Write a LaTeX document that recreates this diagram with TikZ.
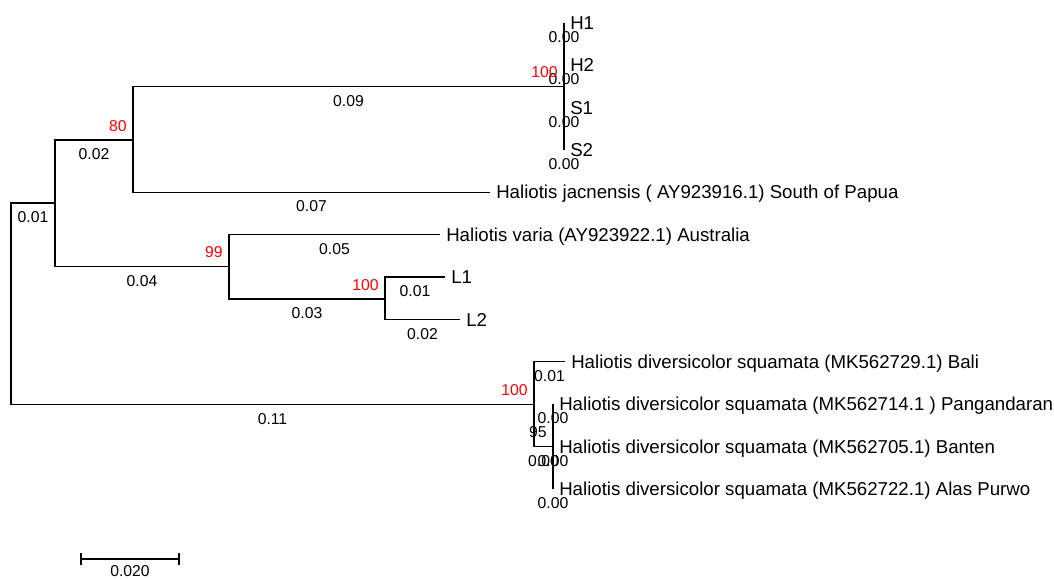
\documentclass[tikz,border=0pt]{standalone}
\usepackage{fontspec}
\usetikzlibrary{calc}
\setmainfont{Liberation Sans}
\newcommand{\taxafont}{\fontsize{14pt}{16pt}\selectfont}
\newcommand{\numfont}{\fontsize{11.8pt}{14pt}\selectfont}
\tikzset{
  branch/.style={line width=0.8pt, black},
  taxon/.style={anchor=base west, inner sep=0pt, xshift=4.5pt, yshift=-5pt, font=\taxafont},
  blen/.style={anchor=north, inner sep=0pt, yshift=-6.2pt, font=\numfont},
  boot/.style={anchor=south east, inner sep=0pt, xshift=-4.5pt, yshift=6.4pt, font=\numfont, text=red},
  bootblack/.style={boot, text=black},
}
\begin{document}
\begin{tikzpicture}[x=0.75pt, y=-0.75pt]
\useasboundingbox (0,0) rectangle (1054,579);

% internal nodes
\coordinate (root) at (11,304);
\coordinate (A) at (55,203);
\coordinate (B) at (133,140);
\coordinate (Hn) at (564,86.5);
\coordinate (C) at (229,266.5);
\coordinate (D) at (385,299);
\coordinate (E) at (534,404.5);
\coordinate (F) at (553,446.5);

% leaves
\coordinate (h1) at (564,22.6);
\coordinate (h2) at (564,65);
\coordinate (s1) at (564,107.4);
\coordinate (s2) at (564,149.8);
\coordinate (jac) at (490,192.2);
\coordinate (var) at (440,234.6);
\coordinate (l1) at (445,277);
\coordinate (l2) at (460,319.4);
\coordinate (bali) at (565,361.8);
\coordinate (pang) at (553,404.2);
\coordinate (ban) at (553,446.6);
\coordinate (alas) at (553,489);

% branches with their lengths
\draw[branch] (root) |- (A) node[blen, pos=0.75] {0.01};
\draw[branch] (root) |- (E) node[blen, pos=0.75] {0.11};
\draw[branch] (A) |- (B) node[blen, pos=0.75] {0.02};
\draw[branch] (A) |- (C) node[blen, pos=0.75] {0.04};
\draw[branch] (B) |- (Hn) node[blen, pos=0.75] {0.09};
\draw[branch] (B) |- (jac) node[blen, pos=0.75] {0.07};
\draw[branch] (Hn) |- (h1) node[blen, pos=0.75] {0.00};
\draw[branch] (Hn) |- (h2) node[blen, pos=0.75] {0.00};
\draw[branch] (Hn) |- (s1) node[blen, pos=0.75] {0.00};
\draw[branch] (Hn) |- (s2) node[blen, pos=0.75] {0.00};
\draw[branch] (C) |- (var) node[blen, pos=0.75] {0.05};
\draw[branch] (C) |- (D) node[blen, pos=0.75] {0.03};
\draw[branch] (D) |- (l1) node[blen, pos=0.75] {0.01};
\draw[branch] (D) |- (l2) node[blen, pos=0.75] {0.02};
\draw[branch] (E) |- (bali) node[blen, pos=0.75] {0.01};
\draw[branch] (E) |- (F) node[blen, pos=0.75] {0.00};
\draw[branch] (F) |- (pang) node[blen, pos=0.75] {0.00};
\draw[branch] (F) |- (ban) node[blen, pos=0.75] {0.00};
\draw[branch] (F) |- (alas) node[blen, pos=0.75] {0.00};

% bootstrap support
\node[boot] (bB) at (B) {80};
\node[boot] (bHn) at (Hn) {100};
\node[boot] (bC) at (C) {99};
\node[boot] (bD) at (D) {100};
\node[boot] (bE) at (E) {100};
\node[bootblack] (bF) at (F) {95};

% taxon names
\node[taxon] (th1) at (h1) {H1};
\node[taxon] (th2) at (h2) {H2};
\node[taxon] (ts1) at (s1) {S1};
\node[taxon] (ts2) at (s2) {S2};
\node[taxon] (tjac) at (jac) {Haliotis jacnensis ( AY923916.1) South of Papua};
\node[taxon] (tvar) at (var) {Haliotis varia (AY923922.1) Australia};
\node[taxon] (tl1) at (l1) {L1};
\node[taxon] (tl2) at (l2) {L2};
\node[taxon] (tbali) at (bali) {Haliotis diversicolor squamata (MK562729.1) Bali};
\node[taxon] (tpang) at (pang) {Haliotis diversicolor squamata (MK562714.1 ) Pangandaran};
\node[taxon] (tban) at (ban) {Haliotis diversicolor squamata (MK562705.1) Banten};
\node[taxon] (talas) at (alas) {Haliotis diversicolor squamata (MK562722.1) Alas Purwo};

% scale bar
\coordinate (sb1) at (81,559);
\coordinate (sb2) at (179,559);
\draw[branch] (sb1) -- (sb2);
\draw[branch] ([yshift=4.5pt]sb1) -- ([yshift=-4.5pt]sb1);
\draw[branch] ([yshift=4.5pt]sb2) -- ([yshift=-4.5pt]sb2);
\node[blen, yshift=1.5pt] (sblab) at ($(sb1)!0.5!(sb2)$) {0.020};
\end{tikzpicture}
\end{document}
